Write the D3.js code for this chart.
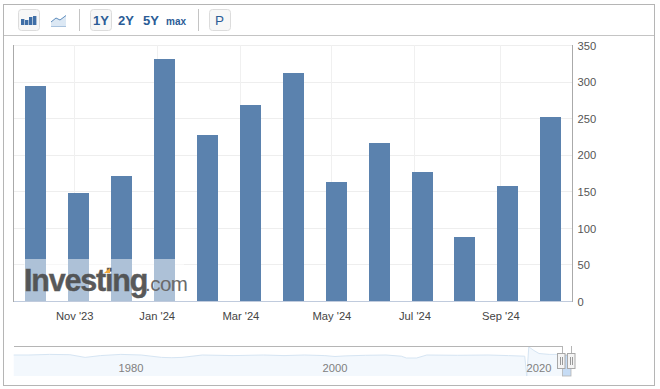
<!DOCTYPE html>
<html><head><meta charset="utf-8">
<script src="https://cdn.jsdelivr.net/npm/d3@7"></script>
<style>
html,body{margin:0;padding:0;background:#fff}
svg{display:block}
text{font-family:"Liberation Sans",Arial,sans-serif}
</style></head><body>
<svg id="c" width="660" height="389"></svg>
<script>
const months = ["Oct '23","Nov '23","Dec '23","Jan '24","Feb '24","Mar '24","Apr '24","May '24","Jun '24","Jul '24","Aug '24","Sep '24","Oct '24"];
const values = [294,148,171,331,227,268,312,163,216,176,88,157,252];
const yTicks = [0,50,100,150,200,250,300,350];
const xTickLabels = ["Nov '23","Jan '24","Mar '24","May '24","Jul '24","Sep '24"];
const xTickPlaces = [0.904,2.825,4.774,6.895,8.83,10.83];
const navYears = [1968.5,1970,1972,1974,1975.5,1977,1979,1981,1983,1984,1985,1987,1990,1993,1995,1997,1999,2000,2001,2003,2005,2006.5,2007,2008,2009,2012,2015,2017,2018.6,2018.8,2019,2019.5,2020,2021,2022,2022.4];
const navValues = [70,70,72,71,62,68,72,70,62,61,62,70,68,70,68,70,68,65,67,69,70,66,60,60,70,69,70,68,66,0,97,85,75,72,72,72];
const navTicks = [1980,2000,2020];

const svg = d3.select("#c");
const frame = "#b5b5b5", blue = "#5b82ae", ink = "#2b5c96";

// outer frame
svg.append("rect").attr("x",3.5).attr("y",4.5).attr("width",651).attr("height",381).attr("fill","#fff").attr("stroke",frame);
svg.append("line").attr("x1",4).attr("x2",654).attr("y1",35.5).attr("y2",35.5).attr("stroke","#c4c4c4");

// toolbar
const tb = svg.append("g");
function btn(x,w){tb.append("rect").attr("x",x+.5).attr("y",9.5).attr("width",w).attr("height",21).attr("rx",3).attr("fill","#f7f7f7").attr("stroke","#dcdcdc");}
btn(18,21); btn(90,21); btn(209,21);
[79.5,198.5].forEach(x=>tb.append("line").attr("x1",x).attr("x2",x).attr("y1",9).attr("y2",31).attr("stroke","#c4c4c4"));
[[21,6],[25,5],[29,8],[33,9]].forEach(([x,h])=>tb.append("rect").attr("x",x).attr("y",25-h).attr("width",3.4).attr("height",h).attr("fill","#3f6ea6"));
tb.append("path").attr("d","M51,22 L56,18 L60,20 L66,15.5 L66,26 L51,26 Z").attr("fill","#dce8f4");
tb.append("path").attr("d","M51,22 L56,18 L60,20 L66,15.5").attr("fill","none").attr("stroke","#5f8dbd");
tb.append("line").attr("x1",51).attr("x2",66).attr("y1",26.5).attr("y2",26.5).attr("stroke","#a9c3de");
[["1Y",101,13],["2Y",126,13],["5Y",151,13],["max",176,10],["P",219.5,13.5]].forEach(([t,x,s])=>
  tb.append("text").attr("x",x).attr("y",24.5).attr("text-anchor","middle").attr("font-size",s).attr("font-weight",t==="P"?"normal":"bold").attr("fill",ink).text(t));

// scales
const x = d3.scaleBand().domain(months).range([14,572]).paddingInner(0.51).paddingOuter(0.255);
const y = d3.scaleLinear().domain([0,350]).range([301,45]);
const bw = x.bandwidth();
const xPos = d3.scaleLinear().domain([0,months.length-1]).range([x(months[0])+bw/2, x(months[12])+bw/2]);

// horizontal grid + y labels
const yAxis = d3.axisRight(y).tickValues(yTicks).tickSize(0).tickPadding(5.5);
const gy = svg.append("g").attr("transform","translate(572,0.6)").call(yAxis);
gy.select(".domain").remove();
gy.selectAll("text").attr("font-size",11.2).attr("font-family","Liberation Sans").attr("fill","#555");
svg.append("g").selectAll("line").data(yTicks.filter(d=>d>0)).join("line")
  .attr("x1",14).attr("x2",572).attr("y1",d=>Math.round(y(d))+.5).attr("y2",d=>Math.round(y(d))+.5).attr("stroke","#eeeeee");

// vertical grid
svg.append("g").selectAll("line").data(xTickPlaces).join("line")
  .attr("x1",d=>Math.round(xPos(d))+.5).attr("x2",d=>Math.round(xPos(d))+.5).attr("y1",45).attr("y2",301).attr("stroke","#f0f0f0");

// bars
svg.append("g").selectAll("rect").data(values).join("rect")
  .attr("x",(d,i)=>Math.round(x(months[i])+.25)).attr("width",Math.round(bw))
  .attr("y",d=>Math.round(y(d))).attr("height",d=>y(0)-Math.round(y(d)))
  .attr("fill",blue).attr("shape-rendering","crispEdges");

// axis lines
svg.append("line").attr("x1",13.5).attr("x2",13.5).attr("y1",45).attr("y2",302).attr("stroke","#aaa");
svg.append("line").attr("x1",572.5).attr("x2",572.5).attr("y1",45).attr("y2",302).attr("stroke","#aaa");
svg.append("line").attr("x1",14).attr("x2",572).attr("y1",301.5).attr("y2",301.5).attr("stroke","#c0cbdd");

// x labels
const xAxis = d3.axisBottom(xPos).tickValues(xTickPlaces).tickSize(0).tickPadding(11).tickFormat((d,i)=>xTickLabels[i]);
const gx = svg.append("g").attr("transform","translate(0,301)").call(xAxis);
gx.select(".domain").remove();
gx.selectAll("text").attr("font-size",11.2).attr("font-family","Liberation Sans").attr("fill","#444");

// watermark
const wm = svg.append("g");
wm.append("rect").attr("x",24).attr("y",259).attr("width",160).attr("height",42).attr("fill","#fff").attr("opacity",.5);
wm.append("text").attr("x",24).attr("y",291).attr("font-size",30.5).attr("font-weight","bold").attr("letter-spacing",-1.2).attr("fill","#4c4c4c").attr("stroke","#4c4c4c").attr("stroke-width",.4).attr("opacity",.92).text("Investing");
wm.append("text").attr("x",145).attr("y",291).attr("font-size",20.5).attr("fill","#6a6a6a").attr("letter-spacing",-.5).text(".com");
wm.append("path").attr("d","M104,273 L110,268 L110,273 Z").attr("fill","#f2a93b");

// navigator
const nx = d3.scaleLinear().domain([1980,2000]).range([131,335]);
const ny = d3.scaleLinear().domain([0,100]).range([376,346]);
svg.append("path").datum(navYears.map((yr,i)=>[yr,navValues[i]]))
  .attr("d",d3.area().x(d=>nx(d[0])).y0(376).y1(d=>ny(d[1]))).attr("fill","#f3f8fd");
svg.append("path").datum(navYears.map((yr,i)=>[yr,navValues[i]]))
  .attr("d",d3.line().x(d=>nx(d[0])).y(d=>ny(d[1]))).attr("fill","none").attr("stroke","#d6e5f3");
svg.append("line").attr("x1",14).attr("x2",562).attr("y1",346.5).attr("y2",346.5).attr("stroke","#b5b5b5");
svg.append("g").selectAll("text").data(navTicks).join("text")
  .attr("x",d=>nx(d)).attr("y",372).attr("text-anchor","middle").attr("font-size",11.2).attr("fill","#808080").text(d=>d);

// navigator selection
svg.append("rect").attr("x",562.5).attr("y",355).attr("width",8.5).attr("height",21).attr("fill","#c6dcf5").attr("stroke","#b5b5b5").attr("stroke-width",.8);
svg.append("line").attr("x1",571.5).attr("x2",571.5).attr("y1",346).attr("y2",354).attr("stroke","#b5b5b5");
svg.append("line").attr("x1",562.5).attr("x2",562.5).attr("y1",346).attr("y2",354).attr("stroke","#b5b5b5");
[558,568].forEach(h=>{
  svg.append("rect").attr("x",h-.5).attr("y",353.5).attr("width",7.5).attr("height",15).attr("fill","#f4f4f4").attr("stroke","#a8a8a8");
  [h+2.5,h+4.5].forEach(v=>svg.append("line").attr("x1",v).attr("x2",v).attr("y1",357).attr("y2",365).attr("stroke","#9a9a9a"));
});
</script>
</body></html>
